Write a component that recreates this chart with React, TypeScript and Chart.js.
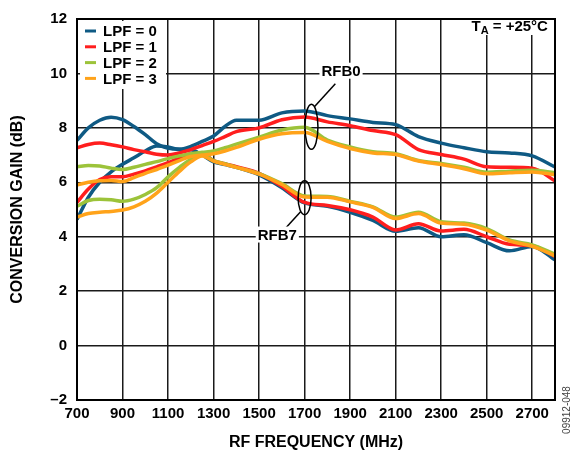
import { useEffect, useRef } from "react";
import { Chart, registerables } from "chart.js";

Chart.register(...registerables);

// ---------- data ----------
const freqMHz = [700, 750, 800, 850, 900, 950, 1000, 1050, 1100, 1150, 1200, 1250, 1300, 1350, 1400, 1500, 1600, 1700, 1800, 1900, 2000, 2100, 2200, 2300, 2400, 2500, 2600, 2700, 2800];

// RFB0 (upper group at 1700 MHz)
const lpf0Rfb0 = [7.54, 8.0, 8.28, 8.39, 8.3, 8.05, 7.75, 7.42, 7.25, 7.22, 7.32, 7.5, 7.7, 8.05, 8.28, 8.28, 8.55, 8.62, 8.45, 8.33, 8.2, 8.12, 7.68, 7.44, 7.27, 7.12, 7.08, 6.97, 6.56];
const lpf1Rfb0 = [7.27, 7.39, 7.44, 7.38, 7.3, 7.2, 7.12, 7.03, 7.0, 7.08, 7.2, 7.35, 7.5, 7.68, 7.86, 8.0, 8.3, 8.4, 8.22, 8.08, 7.9, 7.75, 7.2, 7.02, 6.85, 6.57, 6.55, 6.52, 6.05];
const lpf2Rfb0 = [6.57, 6.62, 6.6, 6.52, 6.47, 6.55, 6.66, 6.76, 6.87, 6.97, 7.05, 7.1, 7.15, 7.27, 7.4, 7.66, 7.92, 8.02, 7.55, 7.3, 7.12, 7.05, 6.8, 6.69, 6.55, 6.37, 6.41, 6.44, 6.35];
const lpf3Rfb0 = [5.9, 6.0, 6.06, 6.07, 6.03, 6.17, 6.33, 6.47, 6.63, 6.8, 6.95, 7.0, 7.05, 7.15, 7.28, 7.58, 7.78, 7.83, 7.5, 7.24, 7.08, 7.02, 6.78, 6.65, 6.5, 6.31, 6.35, 6.38, 6.28];

// RFB7 (lower group at 1700 MHz)
const lpf0Rfb7 = [4.63, 5.45, 6.0, 6.38, 6.66, 6.9, 7.15, 7.33, 7.3, 7.2, 7.2, 7.0, 6.75, 6.65, 6.55, 6.27, 5.8, 5.24, 5.12, 4.9, 4.6, 4.2, 4.33, 4.0, 4.07, 3.78, 3.48, 3.64, 3.15];
const lpf1Rfb7 = [5.26, 5.75, 6.1, 6.2, 6.2, 6.3, 6.42, 6.57, 6.72, 6.9, 7.05, 7.05, 6.8, 6.68, 6.57, 6.33, 5.85, 5.26, 5.15, 4.99, 4.72, 4.25, 4.48, 4.21, 4.27, 4.0, 3.72, 3.67, 3.28];
const lpf2Rfb7 = [5.12, 5.33, 5.38, 5.36, 5.3, 5.38, 5.55, 5.8, 6.2, 6.55, 6.85, 7.02, 6.8, 6.68, 6.55, 6.32, 5.95, 5.5, 5.48, 5.3, 5.1, 4.72, 4.9, 4.55, 4.5, 4.3, 3.88, 3.7, 3.36];
const lpf3Rfb7 = [4.72, 4.85, 4.9, 4.93, 4.98, 5.1, 5.3, 5.6, 6.0, 6.4, 6.75, 6.97, 6.78, 6.66, 6.55, 6.3, 5.92, 5.46, 5.45, 5.28, 5.08, 4.67, 4.85, 4.5, 4.46, 4.24, 3.85, 3.65, 3.3];

const seriesLabels = ["LPF = 0", "LPF = 1", "LPF = 2", "LPF = 3"];
const seriesColors = ["#0f5a84", "#ff1e1e", "#9cc33a", "#ffa31a"];
const rfb0Series = [lpf0Rfb0, lpf1Rfb0, lpf2Rfb0, lpf3Rfb0];
const rfb7Series = [lpf0Rfb7, lpf1Rfb7, lpf2Rfb7, lpf3Rfb7];

const xTickValues = [700, 900, 1100, 1300, 1500, 1700, 1900, 2100, 2300, 2500, 2700];
const xMin = 700;
const xMax = 2800;
const yMin = -2;
const yMax = 12;
const yStep = 2;

const xTitle = "RF FREQUENCY (MHz)";
const yTitle = "CONVERSION GAIN (dB)";
const figureId = "09912-048";

const FONT = "'Liberation Sans', Arial, Helvetica, sans-serif";

// ---------- overlay plugin (frame, legend, annotations) ----------
const overlayPlugin = {
  id: "overlay",
  afterDatasetsDraw(chart: any) {
    const { ctx, chartArea: a, scales } = chart;
    const x = scales.x;
    const y = scales.y;
    const px = (f: number) => x.getPixelForValue(f);
    const py = (v: number) => y.getPixelForValue(v);
    ctx.save();

    // frame
    ctx.strokeStyle = "#000";
    ctx.lineWidth = 2;
    ctx.strokeRect(a.left, a.top, a.right - a.left, a.bottom - a.top);

    const boldFont = (s: number) => `bold ${s}px ${FONT}`;

    const whiteText = (text: string, cx: number, cy: number) => {
      ctx.font = boldFont(15);
      const w = ctx.measureText(text).width;
      ctx.fillStyle = "#fff";
      ctx.fillRect(cx - w / 2 - 2, cy - 8, w + 4, 16);
      ctx.fillStyle = "#000";
      ctx.textAlign = "center";
      ctx.textBaseline = "middle";
      ctx.fillText(text, cx, cy + 1);
    };

    // RFB0 annotation
    ctx.strokeStyle = "#000";
    ctx.lineWidth = 1.5;
    const e0x = px(1730), e0y = py(8.04);
    ctx.beginPath();
    ctx.ellipse(e0x, e0y, 6.5, 22.5, 0, 0, Math.PI * 2);
    ctx.stroke();
    ctx.beginPath();
    ctx.moveTo(e0x + 6.5 * Math.cos(-1.1), e0y + 22.5 * Math.sin(-1.1));
    ctx.lineTo(px(1835), py(9.62));
    ctx.stroke();
    whiteText("RFB0", px(1860), py(10.1));

    // RFB7 annotation
    const e7x = px(1700), e7y = py(5.43);
    ctx.beginPath();
    ctx.ellipse(e7x, e7y, 6.5, 17, 0, 0, Math.PI * 2);
    ctx.stroke();
    ctx.beginPath();
    ctx.moveTo(e7x + 6.5 * Math.cos(2.2), e7y + 17 * Math.sin(2.2));
    ctx.lineTo(px(1612), py(4.27));
    ctx.stroke();
    whiteText("RFB7", px(1580), py(4.08));

    // T_A label
    {
      const right = px(2769);
      const cy = py(11.7);
      ctx.font = boldFont(15);
      const rest = " = +25°C";
      const wRest = ctx.measureText(rest).width;
      const wT = ctx.measureText("T").width;
      ctx.font = boldFont(11);
      const wA = ctx.measureText("A").width;
      const total = wT + wA + wRest;
      const left = right - total;
      ctx.fillStyle = "#fff";
      ctx.fillRect(left - 6, a.top + 1, total + 10, 15);
      ctx.fillStyle = "#000";
      ctx.textAlign = "left";
      ctx.textBaseline = "middle";
      ctx.font = boldFont(15);
      ctx.fillText("T", left, cy);
      ctx.font = boldFont(11);
      ctx.fillText("A", left + wT, cy + 4);
      ctx.font = boldFont(15);
      ctx.fillText(rest, left + wT + wA, cy);
    }

    // legend
    {
      const lx = a.left + 3;
      const ly = a.top + 2;
      ctx.fillStyle = "#fff";
      ctx.fillRect(lx, ly, 86, 68);
      ctx.font = boldFont(15);
      ctx.textAlign = "left";
      ctx.textBaseline = "middle";
      seriesLabels.forEach((lab, i) => {
        const ry = a.top + 12 + i * 15.8;
        ctx.strokeStyle = seriesColors[i];
        ctx.lineWidth = 3;
        ctx.beginPath();
        ctx.moveTo(a.left + 8, ry);
        ctx.lineTo(a.left + 19, ry);
        ctx.stroke();
        ctx.fillStyle = "#000";
        ctx.fillText(lab, a.left + 26, ry + 1);
      });
    }

    // figure id
    ctx.save();
    ctx.translate(567, 410);
    ctx.rotate(-Math.PI / 2);
    ctx.font = `10px ${FONT}`;
    ctx.fillStyle = "#444";
    ctx.textAlign = "center";
    ctx.textBaseline = "middle";
    ctx.fillText(figureId, 0, 0);
    ctx.restore();

    ctx.restore();
  },
};

export default function App() {
  const canvasRef = useRef<HTMLCanvasElement | null>(null);

  useEffect(() => {
    if (!canvasRef.current) return;
    const datasets: any[] = [];
    seriesLabels.forEach((lab, i) => {
      [rfb0Series[i], rfb7Series[i]].forEach((vals, k) => {
        datasets.push({
          label: `${lab} ${k === 0 ? "RFB0" : "RFB7"}`,
          data: freqMHz.map((f, j) => ({ x: f, y: vals[j] })),
          borderColor: seriesColors[i],
          backgroundColor: seriesColors[i],
          borderWidth: 3.5,
          pointRadius: 0,
          fill: false,
          cubicInterpolationMode: "monotone",
          order: 3 - i,
        });
      });
    });

    const chart = new Chart(canvasRef.current, {
      type: "line",
      data: { datasets },
      plugins: [overlayPlugin],
      options: {
        animation: false,
        responsive: false,
        maintainAspectRatio: false,
        devicePixelRatio: 1,
        layout: { padding: { top: 16, right: 19, left: 0, bottom: 0 } },
        plugins: { legend: { display: false }, tooltip: { enabled: false } },
        scales: {
          x: {
            type: "linear",
            min: xMin,
            max: xMax,
            afterBuildTicks: (scale: any) => {
              scale.ticks = xTickValues.map((v) => ({ value: v }));
            },
            afterFit: (scale: any) => {
              scale.height = 52;
            },
            grid: { color: "#1a1a1a", lineWidth: 1.5, drawTicks: false },
            border: { display: false },
            ticks: {
              autoSkip: false,
              maxRotation: 0,
              padding: 5,
              color: "#000",
              font: { family: FONT, size: 15, weight: "bold" },
              callback: (v: any) => String(v),
            },
            title: {
              display: true,
              text: xTitle,
              color: "#000",
              font: { family: FONT, size: 16, weight: "bold" },
              padding: { top: 0, bottom: 0 },
            },
          },
          y: {
            type: "linear",
            min: yMin,
            max: yMax,
            afterFit: (scale: any) => {
              scale.width = 77;
            },
            grid: { color: "#1a1a1a", lineWidth: 1.5, drawTicks: false },
            border: { display: false },
            ticks: {
              stepSize: yStep,
              padding: 10,
              color: "#000",
              font: { family: FONT, size: 15, weight: "bold" },
              callback: (v: any) => (Number(v) < 0 ? "\u2013" + Math.abs(Number(v)) : String(v)),
            },
            title: {
              display: true,
              text: yTitle,
              color: "#000",
              font: { family: FONT, size: 16, weight: "bold" },
              padding: { top: 8, bottom: 0 },
            },
          },
        },
      },
    });
    return () => chart.destroy();
  }, []);

  return (
    <div style={{ position: "fixed", left: 0, top: 0, width: 574, height: 452, background: "#fff" }}>
      <canvas ref={canvasRef} width={574} height={452} style={{ display: "block", width: 574, height: 452 }} />
    </div>
  );
}
